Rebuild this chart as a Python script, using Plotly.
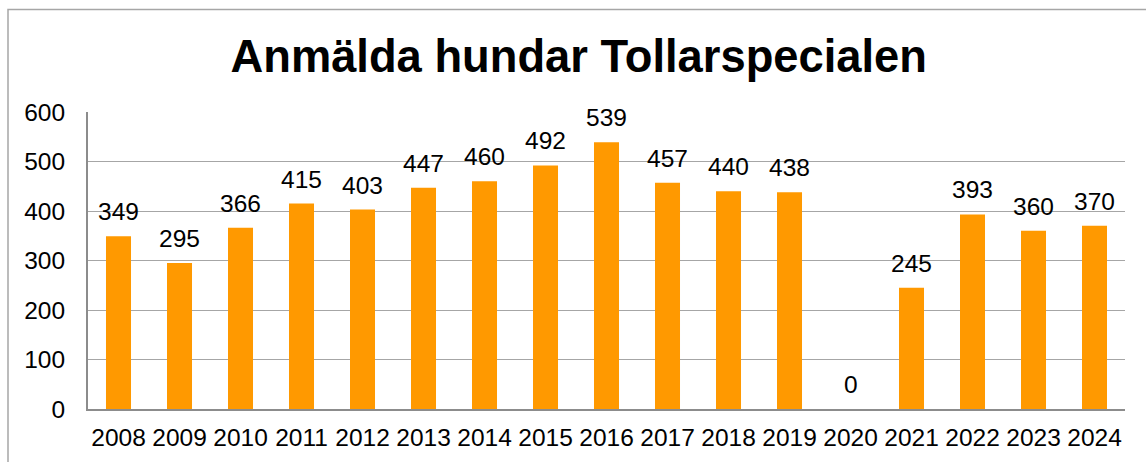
import plotly.graph_objects as go

years = ["2008", "2009", "2010", "2011", "2012", "2013", "2014", "2015", "2016",
         "2017", "2018", "2019", "2020", "2021", "2022", "2023", "2024"]
values = [349, 295, 366, 415, 403, 447, 460, 492, 539, 457, 440, 438, 0, 245, 393, 360, 370]
title_text = "Anmälda hundar Tollarspecialen"
y_ticks = [0, 100, 200, 300, 400, 500, 600]

FONT = "Arial, 'Liberation Sans', sans-serif"
BAR = "#FF9900"
FS = 24.5

fig = go.Figure()
fig.add_trace(go.Bar(x=years, y=values, marker=dict(color=BAR, line=dict(width=0)),
                     hoverinfo="x+y"))

for i, v in enumerate(values):
    fig.add_annotation(x=i, y=v, text=str(v), showarrow=False, xref="x", yref="y",
                       yanchor="bottom", yshift=9,
                       font=dict(family=FONT, size=FS, color="#000000"))

fig.update_layout(
    width=1146, height=462,
    margin=dict(l=88, r=21, t=112, b=52.5, pad=0, autoexpand=False),
    paper_bgcolor="white", plot_bgcolor="white",
    bargap=0.59,
    showlegend=False,
    title=dict(text="<b>" + title_text + "</b>", x=0.505, xref="container", xanchor="center",
               y=1 - 56 / 462, yref="container", yanchor="middle",
               font=dict(family=FONT, size=45.3, color="#000000")),
    font=dict(family=FONT, size=FS, color="#000000"),
)

fig.update_xaxes(
    type="category", categoryorder="array", categoryarray=years,
    range=[-0.5, len(years) - 0.5], automargin=False,
    showgrid=False, showline=True, linecolor="#8C8C8C", linewidth=2,
    ticks="outside", ticklen=6, tickcolor="rgba(0,0,0,0)",
    tickfont=dict(family=FONT, size=FS, color="#000000"),
)
fig.update_yaxes(
    range=[0, 600], tickvals=y_ticks, automargin=False,
    showgrid=True, gridcolor="#A6A6A6", gridwidth=1.3,
    showline=True, linecolor="#8C8C8C", linewidth=2, zeroline=False,
    ticks="outside", ticklen=16, tickcolor="rgba(0,0,0,0)",
    tickfont=dict(family=FONT, size=FS, color="#000000"),
)

# outer chart border (cropped at right and bottom)
fig.add_shape(type="rect", xref="paper", yref="paper",
              x0=(8 - 88) / 1037, x1=1.3, y0=-0.4, y1=(409.5 - 9) / 297.8,
              line=dict(color="#A6A6A6", width=1.5), fillcolor="rgba(0,0,0,0)", layer="below")

fig.write_html("out.html", config={"displayModeBar": False},
               post_script="document.body.style.margin='0';document.body.style.overflow='hidden';")
